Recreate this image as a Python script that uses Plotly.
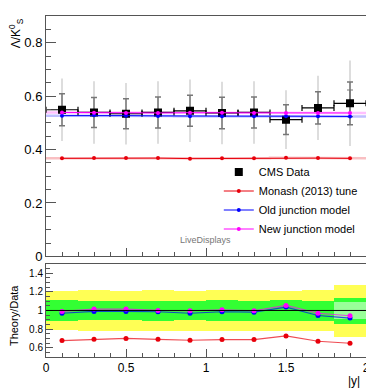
import plotly.graph_objects as go
import numpy as np

# |y| bins (centres) and half width
y_bins = [0.1, 0.3, 0.5, 0.7, 0.9, 1.1, 1.3, 1.5, 1.7, 1.9]
bin_half = 0.1

# CMS data Lambda/K0S
cms = [0.549, 0.539, 0.534, 0.539, 0.545, 0.537, 0.539, 0.512, 0.556, 0.573]
cms_stat = [0.060, 0.056, 0.056, 0.058, 0.058, 0.059, 0.058, 0.056, 0.060, 0.080]
cms_tot = [0.117, 0.117, 0.115, 0.117, 0.117, 0.117, 0.117, 0.110, 0.120, 0.160]
cms_inner = [None, None, None, None, None, None, None, None, None, 0.050]

# model predictions
monash = [0.367, 0.368, 0.368, 0.368, 0.366, 0.367, 0.367, 0.369, 0.368, 0.367]
old_junction = [0.527, 0.528, 0.527, 0.526, 0.525, 0.525, 0.525, 0.525, 0.525, 0.524]
new_junction = [0.539, 0.538, 0.537, 0.537, 0.538, 0.538, 0.537, 0.537, 0.537, 0.537]

# theory / data
monash_ratio = [0.677, 0.690, 0.700, 0.690, 0.680, 0.687, 0.687, 0.726, 0.669, 0.648]
old_ratio = [0.970, 0.990, 0.990, 0.986, 0.970, 0.986, 0.982, 1.036, 0.946, 0.918]
new_ratio = [0.990, 1.015, 1.015, 1.000, 0.997, 1.007, 0.997, 1.054, 0.970, 0.943]

xb = np.array(y_bins)
data = np.array(cms)
stat_rel = np.array(cms_stat) / data
tot_rel = np.array(cms_tot) / data
inner_rel = np.array([np.nan if v is None else v for v in cms_inner]) / data

# step edges for histogram-style model bands
x_step = np.ravel(np.column_stack([xb - bin_half, xb + bin_half]))

fig = go.Figure()

# ratio bands
fig.add_trace(go.Bar(x=xb, y=2 * tot_rel, base=1 - tot_rel, width=0.2,
                     marker=dict(color='#ffff55', line_width=0),
                     xaxis='x2', yaxis='y2', showlegend=False, hoverinfo='skip'))
fig.add_trace(go.Bar(x=xb, y=2 * stat_rel, base=1 - stat_rel, width=0.2,
                     marker=dict(color='#33ff33', line_width=0),
                     xaxis='x2', yaxis='y2', showlegend=False, hoverinfo='skip'))
fig.add_trace(go.Bar(x=xb, y=2 * inner_rel, base=1 - inner_rel, width=0.2,
                     marker=dict(color='#99ff99', line_width=0),
                     xaxis='x2', yaxis='y2', showlegend=False, hoverinfo='skip'))

models = [
    ('Monash (2013) tune', monash, monash_ratio, '#e8000b', 'rgba(232,0,11,0.25)'),
    ('Old junction model', old_junction, old_ratio, '#0000ff', 'rgba(0,0,255,0.25)'),
    ('New junction model', new_junction, new_ratio, '#ff00ff', 'rgba(255,0,255,0.25)'),
]

# data error bars (total, light grey)
fig.add_trace(go.Scatter(
    x=xb, y=data, mode='markers', marker=dict(size=1, color='rgba(0,0,0,0)'),
    error_y=dict(type='data', array=cms_tot, color='#dddddd', thickness=2, width=0),
    showlegend=False, hoverinfo='skip'))
fig.add_trace(go.Scatter(
    x=xb, y=data, mode='markers', marker=dict(size=1, color='rgba(0,0,0,0)'),
    error_y=dict(type='data', array=cms_inner, color='#777777', thickness=1.2, width=3),
    showlegend=False, hoverinfo='skip'))

# model bands in main panel
for name, vals, rvals, col, light in models:
    fig.add_trace(go.Scatter(
        x=x_step, y=np.repeat(vals, 2), mode='lines',
        line=dict(color=light, width=2.5), showlegend=False, hoverinfo='skip'))

# data with stat errors
fig.add_trace(go.Scatter(
    x=xb, y=data, mode='markers', name='CMS Data',
    marker=dict(symbol='square', size=8, color='black'),
    error_y=dict(type='data', array=cms_stat, color='#777777', thickness=1.5, width=3),
    error_x=dict(type='constant', value=bin_half, color='black', thickness=1.2, width=3)))

for name, vals, rvals, col, light in models:
    fig.add_trace(go.Scatter(
        x=xb, y=vals, mode='lines+markers', name=name,
        line=dict(color=col, width=1), marker=dict(size=4, color=col)))

for name, vals, rvals, col, light in models:
    fig.add_trace(go.Scatter(
        x=xb, y=rvals, mode='lines+markers', showlegend=False,
        line=dict(color=light.replace('0.25', '0.7'), width=1.2),
        marker=dict(size=5, color=col), xaxis='x2', yaxis='y2'))

tick_font = dict(family='Liberation Sans, Arial, sans-serif', color='black')

# page body has an 8px margin, so the figure is 8px smaller than the window
fig.update_layout(
    width=366, height=383,
    margin=dict(l=38, r=8, t=8, b=34, autoexpand=False),
    plot_bgcolor='white', paper_bgcolor='white',
    barmode='overlay', bargap=0,
    font=dict(family='Liberation Sans, Arial, sans-serif', color='black'),
    xaxis=dict(domain=[0, 1], range=[0, 2], anchor='y', showticklabels=False,
               dtick=0.5, ticks='inside', ticklen=8, tickcolor='#555',
               minor=dict(dtick=0.1, ticks='inside', ticklen=4, tickcolor='#555'),
               showline=True, linecolor='#555', mirror=True, showgrid=False,
               zeroline=False, automargin=False),
    yaxis=dict(domain=[0.295, 1], range=[0, 0.9], dtick=0.2, ticks='inside',
               ticklen=10, tickcolor='#555',
               minor=dict(dtick=0.05, ticks='inside', ticklen=5, tickcolor='#555'),
               showline=True, linecolor='#555', mirror=True, showgrid=False,
               zeroline=False, automargin=False, tickfont=dict(size=13, **tick_font)),
    xaxis2=dict(domain=[0, 1], range=[0, 2], anchor='y2', dtick=0.5,
                ticks='inside', ticklen=8, tickcolor='#555',
                minor=dict(dtick=0.1, ticks='inside', ticklen=4, tickcolor='#555'),
                showline=True, linecolor='#555', mirror=True, showgrid=False,
                zeroline=False, automargin=False, tickfont=dict(size=12, **tick_font)),
    yaxis2=dict(domain=[0, 0.273], range=[0.5, 1.5], dtick=0.2, anchor='x2',
                ticks='inside', ticklen=7, tickcolor='#555',
                minor=dict(dtick=0.05, ticks='inside', ticklen=4, tickcolor='#555'),
                showline=True, linecolor='#555', mirror=True, showgrid=False,
                zeroline=False, automargin=False, tickfont=dict(size=10, **tick_font)),
    legend=dict(x=0.54, y=0.585, xanchor='left', yanchor='top',
                bgcolor='rgba(0,0,0,0)', font=dict(size=11), tracegroupgap=0),
    shapes=[dict(type='line', xref='x2', yref='y2', x0=0, x1=2, y0=1, y1=1,
                 line=dict(color='black', width=1))],
    annotations=[
        dict(text='Λ/K<sup>0</sup><sub>S</sub>', xref='paper', yref='paper',
             x=-0.093, y=1.0, xanchor='center', yanchor='top', textangle=-90,
             showarrow=False, font=dict(size=12)),
        dict(text='Theory/Data', xref='paper', yref='paper', x=-0.1, y=0.12,
             xanchor='center', yanchor='middle', textangle=-90, showarrow=False,
             font=dict(size=11)),
        dict(text='|y|', xref='paper', yref='paper', x=0.9875, y=-0.07,
             xanchor='right', yanchor='middle', showarrow=False, font=dict(size=12)),
        dict(text='LiveDisplays', xref='paper', yref='paper', x=0.497, y=0.343,
             xanchor='center', yanchor='middle', showarrow=False,
             font=dict(size=9, color='#777777')),
    ],
)

fig.write_html("out.html")
